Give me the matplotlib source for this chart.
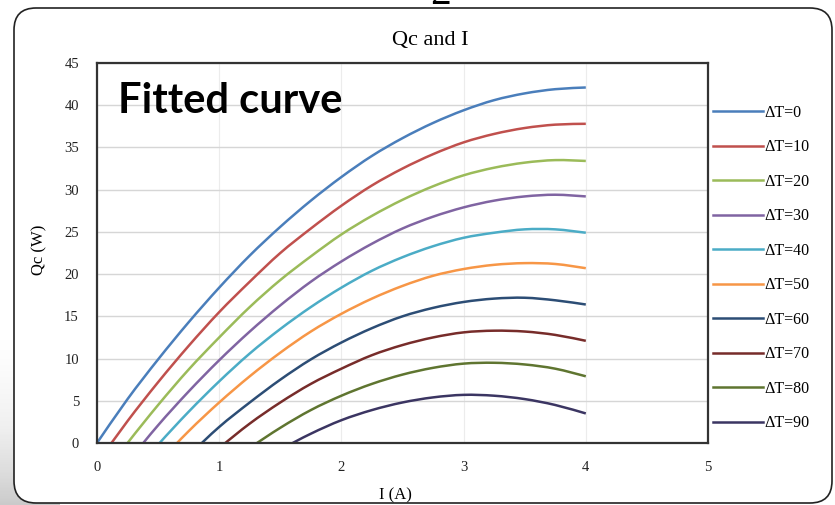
import numpy as np
import matplotlib
matplotlib.use('Agg')
import matplotlib.pyplot as plt
from matplotlib.patches import FancyBboxPatch, PathPatch
from matplotlib.path import Path
from matplotlib.lines import Line2D

# --- data (Qc in W against current I in A) ---
current_a = [0.0, 0.25, 0.5, 0.75, 1.0, 1.25, 1.5, 1.75, 2.0,
             2.25, 2.5, 2.75, 3.0, 3.25, 3.5, 3.75, 4.0]

qc_dt0 = [0.0, 5.2, 9.9, 14.3, 18.4, 22.2, 25.6, 28.7, 31.5, 34.0, 36.1, 37.9, 39.4, 40.6, 41.4, 41.9, 42.1]
qc_dt10 = [-2.4, 2.6, 7.2, 11.5, 15.5, 19.1, 22.5, 25.4, 28.1, 30.5, 32.5, 34.2, 35.6, 36.6, 37.3, 37.7, 37.8]
qc_dt20 = [-4.8, 0.0, 4.5, 8.7, 12.5, 16.1, 19.3, 22.1, 24.7, 26.9, 28.8, 30.4, 31.7, 32.6, 33.2, 33.5, 33.4]
qc_dt30 = [-7.0, -2.3, 2.1, 6.1, 9.8, 13.2, 16.3, 19.1, 21.5, 23.6, 25.4, 26.8, 27.9, 28.7, 29.2, 29.4, 29.2]
qc_dt40 = [-9.0, -4.4, -0.2, 3.7, 7.3, 10.6, 13.5, 16.1, 18.4, 20.4, 22.0, 23.3, 24.3, 24.9, 25.3, 25.3, 24.9]
qc_dt50 = [-10.9, -6.5, -2.4, 1.4, 4.8, 7.9, 10.7, 13.2, 15.3, 17.1, 18.6, 19.8, 20.6, 21.1, 21.3, 21.2, 20.7]
qc_dt60 = [-13.4, -9.1, -5.1, -1.5, 1.9, 4.8, 7.5, 9.9, 11.9, 13.6, 15.0, 16.0, 16.7, 17.1, 17.2, 16.9, 16.4]
qc_dt70 = [-15.2, -11.1, -7.2, -3.7, -0.6, 2.3, 4.8, 7.0, 8.8, 10.4, 11.6, 12.5, 13.1, 13.3, 13.2, 12.8, 12.1]
qc_dt80 = [-17.5, -13.5, -9.8, -6.4, -3.3, -0.6, 1.8, 3.9, 5.6, 7.0, 8.1, 8.9, 9.4, 9.5, 9.3, 8.8, 7.9]
qc_dt90 = [-19.0, -15.1, -11.6, -8.4, -5.6, -3.0, -0.8, 1.1, 2.7, 3.9, 4.8, 5.4, 5.7, 5.6, 5.2, 4.5, 3.5]

delta_t = [0, 10, 20, 30, 40, 50, 60, 70, 80, 90]
series = [qc_dt0, qc_dt10, qc_dt20, qc_dt30, qc_dt40,
          qc_dt50, qc_dt60, qc_dt70, qc_dt80, qc_dt90]
colors = ['#4a7ebb', '#c0504d', '#9bbb59', '#8064a2', '#4bacc6',
          '#f79646', '#2c4d75', '#772c2a', '#5f7530', '#3b3562']

x_ticks = [0, 1, 2, 3, 4, 5]
y_ticks = [0, 5, 10, 15, 20, 25, 30, 35, 40, 45]


def smooth_path(xs, ys):
    # Excel-style "smoothed line": cubic Bezier segments through the points
    pts = np.column_stack([xs, ys]).astype(float)
    n = len(pts)
    verts = [pts[0]]
    codes = [Path.MOVETO]
    for i in range(n - 1):
        p0 = pts[i - 1] if i > 0 else pts[i]
        p1, p2 = pts[i], pts[i + 1]
        p3 = pts[i + 2] if i + 2 < n else pts[i + 1]
        verts += [p1 + (p2 - p0) / 6, p2 - (p3 - p1) / 6, p2]
        codes += [Path.CURVE4] * 3
    return Path(verts, codes)


plt.rcParams['font.family'] = ['Liberation Serif', 'DejaVu Serif']

W, H = 835, 505
fig = plt.figure(figsize=(W / 100, H / 100), dpi=100)

# --- background: grey shadow + rounded frame, drawn in pixel units ---
bg = fig.add_axes([0, 0, 1, 1], zorder=-10)
bg.set_xlim(0, W)
bg.set_ylim(H, 0)
bg.axis('off')
shade = np.linspace(0, 1, 60)[:, None] ** 1.5
bg.imshow(shade, extent=[0, 60, H, 330], cmap='Greys', vmin=0, vmax=3.2, aspect='auto')
frame = FancyBboxPatch((14, 8), 818, 495, boxstyle='round,pad=0,rounding_size=22',
                       fc='white', ec='#222222', lw=1.2)
bg.add_patch(frame)

# --- plot area ---
ax = fig.add_axes([97 / W, 1 - 443 / H, (708 - 97) / W, (443 - 63) / H])
handles = []
for vals, dt, c in zip(series, delta_t, colors):
    ax.add_patch(PathPatch(smooth_path(current_a, vals), fill=False,
                           edgecolor=c, lw=1.8, capstyle='butt'))
    handles.append(Line2D([], [], color=c, lw=1.8, label=f'ΔT={dt}'))

ax.set_xlim(0, 5)
ax.set_ylim(0, 45)
ax.set_xticks(x_ticks)
ax.set_yticks(y_ticks)
ax.grid(axis='y', color='#d6d6d6', lw=1.0)
ax.grid(axis='x', color='#ececec', lw=0.8)
ax.set_axisbelow(True)
for s in ax.spines.values():
    s.set_color('#333333')
    s.set_linewidth(1.6)
ax.tick_params(length=0, pad=13, labelsize=10.5, colors='#222222')

ax.set_xlabel('I (A)', fontsize=12)
ax.xaxis.set_label_coords((395 - 97) / 611, (443 - 487) / 380)
ax.set_ylabel('Qc (W)', fontsize=12)
ax.yaxis.set_label_coords((47 - 97) / 611, (443 - 250) / 380)

fig.text(430 / W, 1 - 40 / H, 'Qc and I', ha='center', va='center', fontsize=16)
fig.text(118 / W, 1 - 113 / H, 'Fitted curve', family='Lato', weight='bold',
         fontsize=30, ha='left', va='baseline')
# stray character cut off at the top edge of the screenshot
fig.text(440 / W, 1 - 4 / H, '2', ha='center', va='baseline', fontsize=30)

ax.legend(handles=handles, loc='center left', bbox_to_anchor=(713 / W, 1 - 268 / H),
          bbox_transform=fig.transFigure, frameon=False, fontsize=11.5,
          handlelength=3.1, handletextpad=0.1, labelspacing=1.16,
          borderpad=0, borderaxespad=0)

fig.savefig('out.png', dpi=100)
